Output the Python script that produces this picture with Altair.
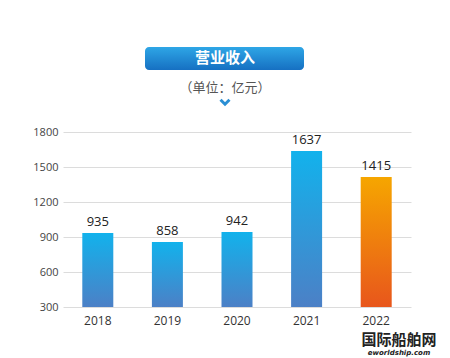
import altair as alt
import pandas as pd

years = ["2018", "2019", "2020", "2021", "2022"]
revenue = [935, 858, 942, 1637, 1415]
highlight = [False, False, False, False, True]
y_ticks = [300, 600, 900, 1200, 1500, 1800]

title_text = "营业收入"
unit_text = "（单位：亿元）"
brand_cn = "国际船舶网"
brand_en = "eworldship.com"

df = pd.DataFrame({"year": years, "value": revenue, "hl": highlight})

W, H = 348, 175
LEFT, TOP = 63, 132

blue_grad = alt.Gradient(
    gradient="linear",
    stops=[alt.GradientStop(color="#12b2ec", offset=0),
           alt.GradientStop(color="#4c80c6", offset=1)],
    x1=0, x2=0, y1=0, y2=1)
orange_grad = alt.Gradient(
    gradient="linear",
    stops=[alt.GradientStop(color="#f6a600", offset=0),
           alt.GradientStop(color="#e8561c", offset=1)],
    x1=0, x2=0, y1=0, y2=1)
btn_grad = alt.Gradient(
    gradient="linear",
    stops=[alt.GradientStop(color="#2ea6e6", offset=0),
           alt.GradientStop(color="#1670c2", offset=1)],
    x1=0, x2=0, y1=0, y2=1)

base = alt.Chart(df)

x_enc = alt.X("year:N", sort=years,
              scale=alt.Scale(paddingInner=0.55, paddingOuter=0.275),
              axis=alt.Axis(title=None, labelAngle=0, domain=False, ticks=False,
                            labelFontSize=12, labelColor="#333333", labelPadding=8,
                            labelFont="Open Sans"))
y_enc = alt.Y("value:Q",
              scale=alt.Scale(domain=[300, 1800], nice=False, zero=False),
              axis=alt.Axis(title=None, values=y_ticks, tickCount=len(y_ticks),
                            domain=False, ticks=False,
                            labelOverlap=False, format="d",
                            labelFontSize=11, labelColor="#444444", labelPadding=5,
                            gridColor="#dcdcdc", labelFont="Open Sans"))

bars_blue = base.transform_filter("!datum.hl").mark_bar(color=blue_grad, size=31).encode(
    x=x_enc, y=y_enc, y2=alt.datum(300))
bars_orange = base.transform_filter("datum.hl").mark_bar(color=orange_grad, size=31).encode(
    x=alt.X("year:N", sort=years), y="value:Q", y2=alt.datum(300))
labels = base.mark_text(baseline="bottom", dy=-4, fontSize=13, color="#222222",
                        font="Open Sans").encode(
    x=alt.X("year:N", sort=years), y="value:Q", text="value:Q")

deco = pd.DataFrame({"a": [0]})
dbase = alt.Chart(deco)
button = dbase.mark_rect(color=btn_grad, cornerRadius=4).encode(
    x=alt.value(145 - LEFT), x2=alt.value(304 - LEFT),
    y=alt.value(47 - TOP), y2=alt.value(70 - TOP))
title = dbase.mark_text(text=title_text, color="white", fontSize=15, fontWeight="bold",
                        font="Noto Sans CJK SC", baseline="middle", align="center").encode(
    x=alt.value(225 - LEFT), y=alt.value(58 - TOP))
unit = dbase.mark_text(text=unit_text, color="#555555", fontSize=13,
                       font="Noto Sans CJK SC", baseline="middle", align="center").encode(
    x=alt.value(225 - LEFT), y=alt.value(88 - TOP))
chevron = dbase.mark_point(shape="M-1,-0.5L0,0.5L1,-0.5", filled=False, size=80,
                           strokeWidth=3, color="#2a8fd4", opacity=1).encode(
    x=alt.value(225 - LEFT), y=alt.value(102 - TOP))
wm1 = dbase.mark_text(text=brand_cn, color="#222222", fontSize=15, fontWeight="bold",
                      font="Noto Sans CJK SC", baseline="middle", align="center").encode(
    x=alt.value(399 - LEFT), y=alt.value(340 - TOP))
wm2 = dbase.mark_text(text=brand_en, color="#222222", fontSize=7, fontWeight="bold",
                      fontStyle="italic", font="DejaVu Sans", baseline="middle",
                      align="center").encode(
    x=alt.value(399 - LEFT), y=alt.value(353 - TOP))

chart = alt.layer(bars_blue, bars_orange, labels, button, title, unit, chevron, wm1, wm2).properties(
    width=W, height=H,
    autosize=alt.AutoSizeParams(type="none"),
    padding={"left": LEFT, "top": TOP, "right": 450 - LEFT - W, "bottom": 358 - TOP - H},
    background="white",
).configure_view(stroke=None)

chart.save("out.html", embed_options={"renderer": "svg", "actions": False})
